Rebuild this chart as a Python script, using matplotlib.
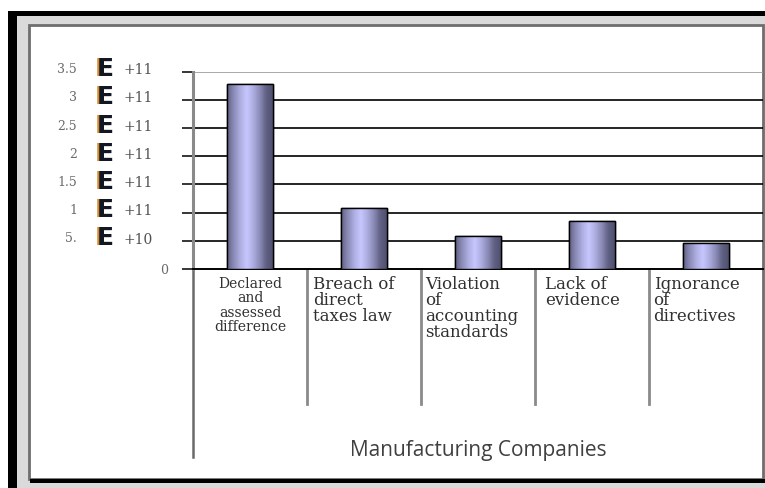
import numpy as np
import matplotlib
matplotlib.use("Agg")
import matplotlib.pyplot as plt
from matplotlib.patches import Rectangle
from matplotlib.transforms import blended_transform_factory

# data
categories = ['Declared\nand\nassessed\ndifference',
              'Breach of\ndirect\ntaxes law',
              'Violation\nof\naccounting\nstandards',
              'Lack of\nevidence',
              'Ignorance\nof\ndirectives']
values = [3.27e11, 1.08e11, 0.58e11, 0.85e11, 0.46e11]
tick_values = [0, 0.5e11, 1e11, 1.5e11, 2e11, 2.5e11, 3e11, 3.5e11]
tick_mantissa = ['0', '5.', '1', '1.5', '2', '2.5', '3', '3.5']
tick_exponent = ['', '+10', '+11', '+11', '+11', '+11', '+11', '+11']
axis_title = 'Manufacturing Companies'

W, H = 765, 489


def fx(px):
    return px / W


def fy(py):
    return 1 - py / H


fig = plt.figure(figsize=(W / 100, H / 100), dpi=100)
fig.patch.set_facecolor('white')

# scanned frame around the chart
def frame_rect(x0, y0, x1, y1, **kw):
    fig.patches.append(Rectangle((fx(x0), fy(y1)), fx(x1) - fx(x0), fy(y0) - fy(y1),
                                 transform=fig.transFigure, **kw))

frame_rect(8, 12, 765, 489, facecolor='#dadada', edgecolor='none', zorder=0)
frame_rect(29, 26, 763, 480, facecolor='white', edgecolor='#6e6e6e', lw=2, zorder=1)
frame_rect(8, 12, 17, 489, facecolor='black', edgecolor='none', zorder=2)
frame_rect(8, 12, 765, 17, facecolor='black', edgecolor='none', zorder=2)
frame_rect(30, 480, 765, 484, facecolor='black', edgecolor='none', zorder=2)

ax = fig.add_axes([fx(193), fy(270), fx(763) - fx(193), fy(72.5) - fy(270)])
ax.set_facecolor('none')
ax.set_zorder(3)

x = np.arange(len(values))

# gridlines
for v in tick_values[1:-1]:
    ax.axhline(v, color='black', lw=1.2, zorder=1)
ax.axhline(tick_values[-1], color='#9a9a9a', lw=1.2, zorder=1)

# bars with a cylinder-like shading
bar_w = 0.4
bars = ax.bar(x, values, width=bar_w, color='#b8b8ec', edgecolor='black', lw=1, zorder=3)
shade = np.array([0.0, 0.25, 0.45, 0.6, 0.45, 0.25, 0.0, -0.1])
light = np.array([0.78, 0.78, 1.0])
dark = np.array([0.38, 0.38, 0.52])
cols = np.interp(np.linspace(0, 1, 64), np.linspace(0, 1, len(shade)), shade)
grad = np.clip(dark[None, :] + (light - dark)[None, :] * (cols[:, None] / 0.6), 0, 1)
grad = grad[None, :, :]
for b in bars:
    im = ax.imshow(grad, extent=[b.get_x(), b.get_x() + b.get_width(), 0, b.get_height()],
                   aspect='auto', zorder=3.5, interpolation='bicubic')
    im.set_clip_path(b)
    ax.add_patch(Rectangle((b.get_x(), 0), b.get_width(), b.get_height(),
                           facecolor='none', edgecolor='black', lw=1, zorder=4))

ax.set_xlim(-0.5, 4.5)
ax.set_ylim(0, 3.5e11)

for s in ['top', 'right']:
    ax.spines[s].set_visible(False)
ax.spines['left'].set_color('#8a8a8a')
ax.spines['left'].set_linewidth(2.2)
ax.spines['bottom'].set_color('black')
ax.spines['bottom'].set_linewidth(1.4)
ax.set_yticks(tick_values)
ax.set_yticklabels([])
ax.tick_params(axis='y', length=8, width=1.1, color='black', direction='out')
ax.set_xticks([])

# y tick labels like "3.5 E+11"
ty = blended_transform_factory(fig.transFigure, ax.transData)
for v, m, e in zip(tick_values, tick_mantissa, tick_exponent):
    if e == '':
        ax.text(fx(168), v, m, transform=ty, ha='right', va='center',
                family='DejaVu Serif', fontsize=9, color='#6a6a6a', clip_on=False)
        continue
    ax.text(fx(77), v + 0.05e11, m, transform=ty, ha='right', va='center',
            family='DejaVu Serif', fontsize=9, color='#6a6a6a', clip_on=False)
    ax.text(fx(95), v + 0.06e11, 'E', transform=ty, ha='left', va='center',
            family='DejaVu Sans', fontweight='bold', fontsize=18, color='#d98a2a',
            clip_on=False)
    ax.text(fx(96.5), v + 0.06e11, 'E', transform=ty, ha='left', va='center',
            family='DejaVu Sans', fontweight='bold', fontsize=18, color='#101826',
            clip_on=False)
    ax.text(fx(123), v + 0.04e11, e, transform=ty, ha='left', va='center',
            family='DejaVu Serif', fontsize=10, color='#505050', clip_on=False)

# category boxes below the axis
tx = ax.get_xaxis_transform()
for b in np.arange(0.5, 4.5, 1):
    ax.plot([b, b], [0, -0.684], transform=tx, color='#8a8a8a', lw=2, clip_on=False)
ax.plot([-0.5, -0.5], [0, -0.95], transform=tx, color='#6a6a6a', lw=1.8, clip_on=False)

ax.text(0, -0.035, categories[0], transform=tx, ha='center', va='top',
        family='DejaVu Serif', fontsize=10, linespacing=1.04, color='#303030')
offsets = [0, 0.05, 0.04, 0.09, 0.04]
for i in range(1, len(categories)):
    ax.text(i - 0.5 + offsets[i], -0.03, categories[i], transform=tx, ha='left', va='top',
            family='DejaVu Serif', fontsize=12, linespacing=0.93, color='#303030')

ax.text(fx(478), fy(451), axis_title, transform=fig.transFigure, ha='center', va='center',
        family='Open Sans', fontsize=15, color='#404040')

fig.savefig('out.png', dpi=100)
